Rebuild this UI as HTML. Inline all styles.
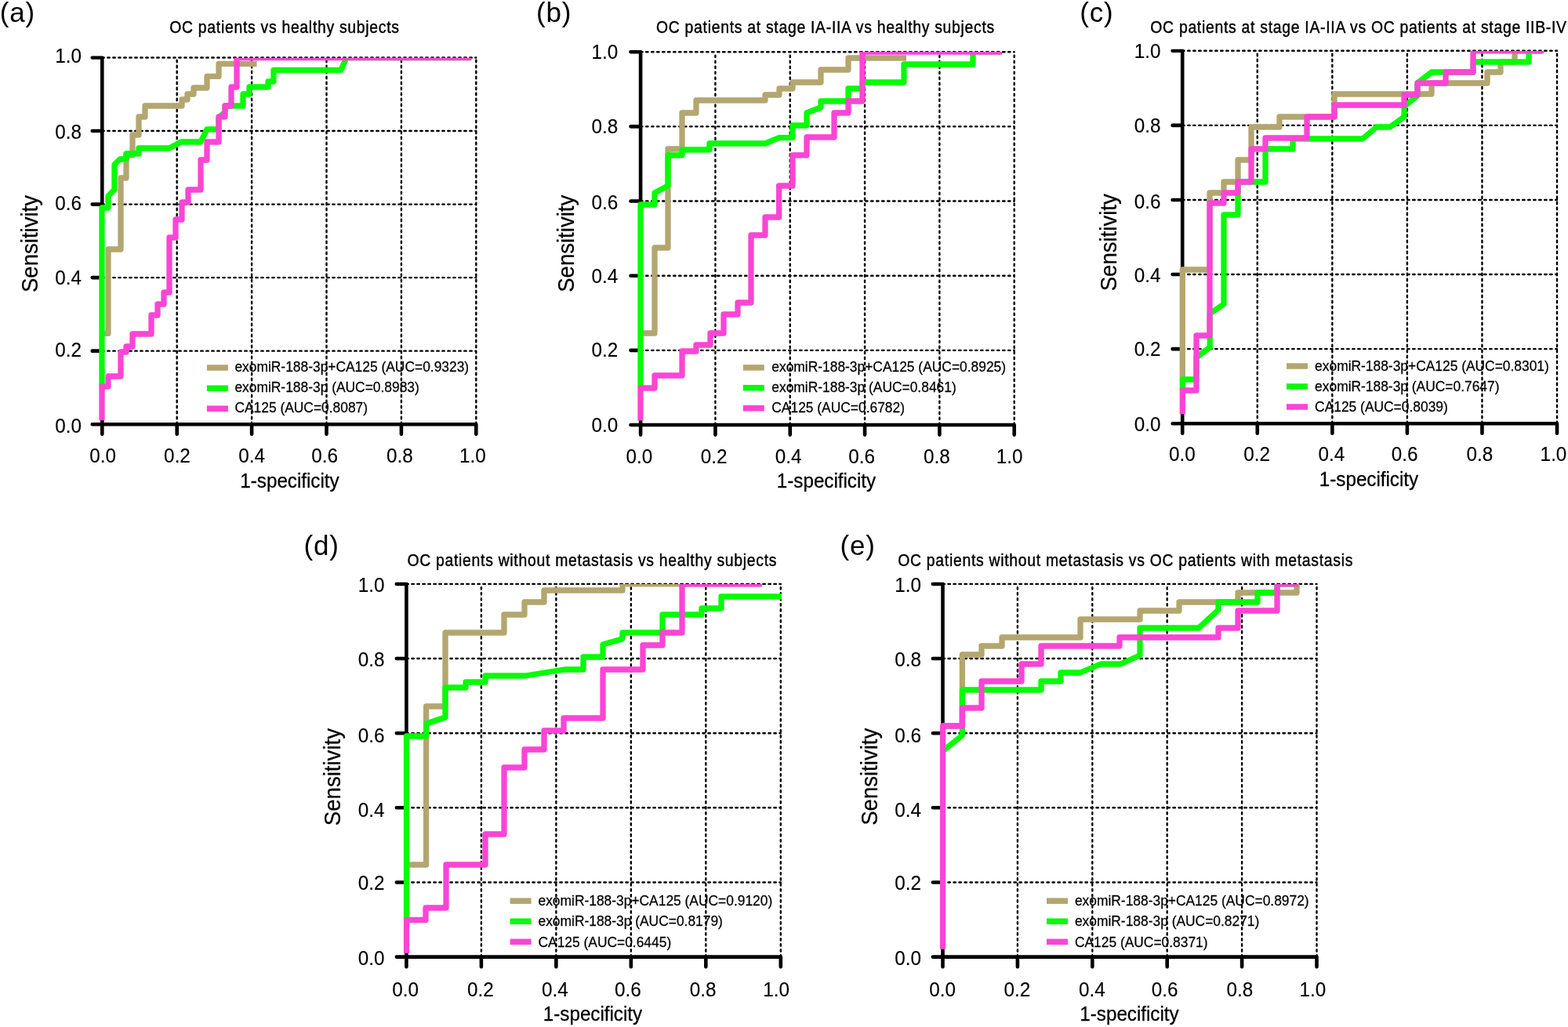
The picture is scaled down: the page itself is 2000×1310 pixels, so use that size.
<!DOCTYPE html>
<html lang="en">
<head>
<meta charset="utf-8">
<title>ROC curves</title>
<style>
html,body{margin:0;padding:0;background:#fff;}
body{width:2000px;height:1310px;overflow:hidden;}
svg{display:block;}
text{font-family:"Liberation Sans",Arial,Helvetica,sans-serif;fill:#000;}
.title{font-size:22.0px;stroke:#000;stroke-width:0.45px;stroke-linejoin:round;}
.tick{font-size:26.4px;stroke:#000;stroke-width:0.15px;stroke-linejoin:round;}
.xlab{font-size:25.6px;stroke:#000;stroke-width:0.3px;stroke-linejoin:round;}
.ylab{font-size:29.9px;stroke:#000;stroke-width:0.25px;stroke-linejoin:round;}
.leg{font-size:18.2px;stroke:#000;stroke-width:0.25px;stroke-linejoin:round;}
.plabel{font-size:35px;stroke:#000;stroke-width:0px;stroke-linejoin:round;}
.plabel{letter-spacing:0.8px;}
.title{letter-spacing:0.82px;}
.grid{fill:none;stroke:#000;stroke-width:2.4;stroke-dasharray:2.4 4.6;stroke-linecap:round;}
.axis{fill:none;stroke:#000;stroke-width:4.6;stroke-linecap:round;}
.curves polyline{fill:none;stroke-width:7.3;stroke-linejoin:round;stroke-linecap:butt;}
</style>
</head>
<body>
<svg width="2000" height="1310" viewBox="0 0 2000 1310">
<rect width="2000" height="1310" fill="#fff"/>
<g id="panel-a">
<path class="grid" d="M225.70 541.20V73.50M321.10 541.20V73.50M416.50 541.20V73.50M511.90 541.20V73.50M607.30 541.20V73.50M130.30 447.66H607.30M130.30 354.12H607.30M130.30 260.58H607.30M130.30 167.04H607.30M130.30 73.50H607.30"/>
<clipPath id="aclip-a"><rect x="100.30000000000001" y="71.2" width="60" height="507.70000000000005"/></clipPath>
<path class="axis" clip-path="url(#aclip-a)" d="M130.30 73.50V541.20M130.30 447.66h-12.6M130.30 354.12h-12.6M130.30 260.58h-12.6M130.30 167.04h-12.6M130.30 73.50h-12.6"/>
<text class="tick" transform="translate(131.20 589.90) scale(0.92 1)" text-anchor="middle">0.0</text>
<text class="tick" transform="translate(226.00 589.90) scale(0.92 1)" text-anchor="middle">0.2</text>
<text class="tick" transform="translate(321.20 589.90) scale(0.92 1)" text-anchor="middle">0.4</text>
<text class="tick" transform="translate(414.10 589.90) scale(0.92 1)" text-anchor="middle">0.6</text>
<text class="tick" transform="translate(509.80 589.90) scale(0.92 1)" text-anchor="middle">0.8</text>
<text class="tick" transform="translate(602.80 589.90) scale(0.92 1)" text-anchor="middle">1.0</text>
<text class="tick" transform="translate(103.90 551.85) scale(0.92 1)" text-anchor="end">0.0</text>
<text class="tick" transform="translate(103.90 455.21) scale(0.92 1)" text-anchor="end">0.2</text>
<text class="tick" transform="translate(103.90 362.77) scale(0.92 1)" text-anchor="end">0.4</text>
<text class="tick" transform="translate(103.90 268.43) scale(0.92 1)" text-anchor="end">0.6</text>
<text class="tick" transform="translate(103.90 176.84) scale(0.92 1)" text-anchor="end">0.8</text>
<text class="tick" transform="translate(103.90 79.75) scale(0.92 1)" text-anchor="end">1.0</text>
<clipPath id="clip-a"><rect x="110.30000000000001" y="73.7" width="517.0" height="487.50000000000006"/></clipPath>
<g clip-path="url(#clip-a)" class="curves">
<polyline points="130,425.3 138,425.3 138,318 154,318 154,227 161,227 161,198 169,198 169,172 177,172 177,149 185,149 185,135 232,135 232,127 239,127 239,120 247,120 247,112 264,112 264,97.4 279,97.4 279,81.4 327.5,81.4" stroke="#b3a66f"/>
<polyline points="130,493 130,265 138,265 138,250 146,242 146,210 153,203 161,203 161,196 177,196 177,189 216,189 231,181 256,181 264,165 279,165 279,150 287,143 287,135 310,135 310,120 318,120 318,111 342,111 342,104 349,104 349,89.3 435,89.3 442,73.5 600,73.5" stroke="#08fb08"/>
<polyline points="130,536.3 130,493 138,493 138,480 154,480 154,449 161,449 161,442 169,442 169,426 193,426 193,402 201,402 201,388 209,388 209,373 216,373 216,303 224,303 224,280 232,280 232,258 240,258 240,242 256,242 256,204 264,204 264,181 279,181 279,149 287,149 287,135 295,135 295,111 302,111 302,73.5 601.5,73.5" stroke="#fa45d5"/>
</g>
<path class="axis" d="M117.70 541.20H607.30M130.30 541.20v12.6M225.70 541.20v12.6M321.10 541.20v12.6M416.50 541.20v12.6M511.90 541.20v12.6M607.30 541.20v12.6"/>
<rect x="263.9" y="465.25" width="27" height="7.5" fill="#b3a66f"/>
<text class="leg" transform="translate(299.40 473.80) scale(0.956 1)">exomiR-188-3p+CA125 (AUC=0.9323)</text>
<rect x="263.9" y="491.45" width="27" height="7.5" fill="#08fb08"/>
<text class="leg" transform="translate(299.40 500.00) scale(0.956 1)">exomiR-188-3p (AUC=0.8983)</text>
<rect x="263.9" y="517.45" width="27" height="7.5" fill="#fa45d5"/>
<text class="leg" transform="translate(299.40 526.00) scale(0.956 1)">CA125 (AUC=0.8087)</text>
<text class="title" transform="translate(363.00 42.00) scale(0.88 1)" text-anchor="middle">OC patients vs healthy subjects</text>
<text class="plabel" transform="translate(-0.30 27.70)">(a)</text>
<text class="ylab" transform="translate(47.70 311.00) rotate(-90) scale(0.922 1)" text-anchor="middle">Sensitivity</text>
<text class="xlab" transform="translate(369.50 622.00) scale(0.945 1)" text-anchor="middle">1-specificity</text>
</g>
<g id="panel-b">
<path class="grid" d="M912.42 542.00V66.20M1007.74 542.00V66.20M1103.06 542.00V66.20M1198.38 542.00V66.20M1293.70 542.00V66.20M817.10 446.84H1293.70M817.10 351.68H1293.70M817.10 256.52H1293.70M817.10 161.36H1293.70M817.10 66.20H1293.70"/>
<clipPath id="aclip-b"><rect x="787.1" y="63.900000000000006" width="60" height="515.8"/></clipPath>
<path class="axis" clip-path="url(#aclip-b)" d="M817.10 66.20V542.00M817.10 446.84h-12.6M817.10 351.68h-12.6M817.10 256.52h-12.6M817.10 161.36h-12.6M817.10 66.20h-12.6"/>
<text class="tick" transform="translate(815.30 590.70) scale(0.92 1)" text-anchor="middle">0.0</text>
<text class="tick" transform="translate(910.62 590.70) scale(0.92 1)" text-anchor="middle">0.2</text>
<text class="tick" transform="translate(1005.64 590.70) scale(0.92 1)" text-anchor="middle">0.4</text>
<text class="tick" transform="translate(1099.16 590.70) scale(0.92 1)" text-anchor="middle">0.6</text>
<text class="tick" transform="translate(1194.78 590.70) scale(0.92 1)" text-anchor="middle">0.8</text>
<text class="tick" transform="translate(1287.70 590.70) scale(0.92 1)" text-anchor="middle">1.0</text>
<text class="tick" transform="translate(788.30 551.05) scale(0.92 1)" text-anchor="end">0.0</text>
<text class="tick" transform="translate(788.30 454.89) scale(0.92 1)" text-anchor="end">0.2</text>
<text class="tick" transform="translate(788.30 361.38) scale(0.92 1)" text-anchor="end">0.4</text>
<text class="tick" transform="translate(788.30 267.07) scale(0.92 1)" text-anchor="end">0.6</text>
<text class="tick" transform="translate(788.30 170.41) scale(0.92 1)" text-anchor="end">0.8</text>
<text class="tick" transform="translate(788.30 75.15) scale(0.92 1)" text-anchor="end">1.0</text>
<clipPath id="clip-b"><rect x="797.1" y="65.9" width="516.6" height="496.1"/></clipPath>
<g clip-path="url(#clip-b)" class="curves">
<polyline points="817,425 835,425 835,316 852,316 852,190 870,190 870,144 888,144 888,128 976,128 976,121 994,121 994,113 1011,113 1011,105 1047,105 1047,89 1082,89 1082,74 1156,74" stroke="#b3a66f"/>
<polyline points="817,495 817,261 835,261 835,246 852,237 852,198 870,198 870,191 905,191 905,183 976,183 994,175.6 1011,175.6 1011,160 1029,160 1029,144 1047,137 1047,129 1082,129 1082,113 1100,113 1100,105 1153,105 1153,82 1241,82 1241,66.2 1276,66.2" stroke="#08fb08"/>
<polyline points="817,536.6 817,495 835,495 835,479 870,479 870,448 888,448 888,440 906,440 906,425 923,425 923,401 941,401 941,386 958,386 958,300 976,300 976,277 993.6,277 993.6,237 1011,237 1011,198 1029,198 1029,175 1064,175 1064,144 1082,144 1082,129 1100,129 1100,66.2 1278,66.2" stroke="#fa45d5"/>
</g>
<path class="axis" d="M804.50 542.00H1293.70M817.10 542.00v12.6M912.42 542.00v12.6M1007.74 542.00v12.6M1103.06 542.00v12.6M1198.38 542.00v12.6M1293.70 542.00v12.6"/>
<rect x="947.8" y="465.15" width="27" height="7.5" fill="#b3a66f"/>
<text class="leg" transform="translate(984.30 474.30) scale(0.956 1)">exomiR-188-3p+CA125 (AUC=0.8925)</text>
<rect x="947.8" y="490.95" width="27" height="7.5" fill="#08fb08"/>
<text class="leg" transform="translate(984.30 500.10) scale(0.956 1)">exomiR-188-3p (AUC=0.8461)</text>
<rect x="947.8" y="516.95" width="27" height="7.5" fill="#fa45d5"/>
<text class="leg" transform="translate(984.30 526.10) scale(0.956 1)">CA125 (AUC=0.6782)</text>
<text class="title" transform="translate(1053.00 42.00) scale(0.88 1)" text-anchor="middle">OC patients at stage IA-IIA vs healthy subjects</text>
<text class="plabel" transform="translate(684.00 27.70)">(b)</text>
<text class="ylab" transform="translate(732.00 310.80) rotate(-90) scale(0.922 1)" text-anchor="middle">Sensitivity</text>
<text class="xlab" transform="translate(1054.00 622.00) scale(0.945 1)" text-anchor="middle">1-specificity</text>
</g>
<g id="panel-c">
<path class="grid" d="M1603.76 540.20V64.80M1699.32 540.20V64.80M1794.88 540.20V64.80M1890.44 540.20V64.80M1986.00 540.20V64.80M1508.20 445.12H1986.00M1508.20 350.04H1986.00M1508.20 254.96H1986.00M1508.20 159.88H1986.00M1508.20 64.80H1986.00"/>
<clipPath id="aclip-c"><rect x="1478.2" y="62.5" width="60" height="515.4000000000001"/></clipPath>
<path class="axis" clip-path="url(#aclip-c)" d="M1508.20 64.80V540.20M1508.20 445.12h-12.6M1508.20 350.04h-12.6M1508.20 254.96h-12.6M1508.20 159.88h-12.6M1508.20 64.80h-12.6"/>
<text class="tick" transform="translate(1507.90 588.00) scale(0.92 1)" text-anchor="middle">0.0</text>
<text class="tick" transform="translate(1603.01 588.00) scale(0.92 1)" text-anchor="middle">0.2</text>
<text class="tick" transform="translate(1698.32 588.00) scale(0.92 1)" text-anchor="middle">0.4</text>
<text class="tick" transform="translate(1791.58 588.00) scale(0.92 1)" text-anchor="middle">0.6</text>
<text class="tick" transform="translate(1887.44 588.00) scale(0.92 1)" text-anchor="middle">0.8</text>
<text class="tick" transform="translate(1981.50 588.00) scale(0.92 1)" text-anchor="middle">1.0</text>
<text class="tick" transform="translate(1480.40 549.90) scale(0.92 1)" text-anchor="end">0.0</text>
<text class="tick" transform="translate(1480.40 453.77) scale(0.92 1)" text-anchor="end">0.2</text>
<text class="tick" transform="translate(1480.40 360.29) scale(0.92 1)" text-anchor="end">0.4</text>
<text class="tick" transform="translate(1480.40 266.01) scale(0.92 1)" text-anchor="end">0.6</text>
<text class="tick" transform="translate(1480.40 169.48) scale(0.92 1)" text-anchor="end">0.8</text>
<text class="tick" transform="translate(1480.40 73.55) scale(0.92 1)" text-anchor="end">1.0</text>
<clipPath id="clip-c"><rect x="1488.2" y="64.9" width="517.8" height="495.30000000000007"/></clipPath>
<g clip-path="url(#clip-c)" class="curves">
<polyline points="1508.3,484 1508.3,344 1543,344 1543,246 1561,246 1561,232 1579,232 1579,204 1596,204 1596,162 1632,162 1632,149 1702,149 1702,120 1826,120 1826,106 1897,106 1897,92 1914,92 1914,79.2 1932,79.2 1932,64.8 1967,64.8" stroke="#b3a66f"/>
<polyline points="1508.3,498 1508.3,484 1526,484 1526,456 1543.2,443 1543.2,400 1561,388 1561,274 1579,274 1579,232 1614,232 1614,190 1649,190 1649,177 1738,177 1756,162 1773,162 1791,149 1791,136 1808,122 1808,106 1826,92 1879,92 1879,79 1950,79 1950,64.8 1967,64.8" stroke="#08fb08"/>
<polyline points="1508.3,528.2 1508.3,498 1526,498 1526,428 1543,428 1543,259 1561,259 1561,246 1579,246 1579,232 1596,232 1596,190 1614,190 1614,176 1667,176 1667,149 1702,149 1702,134 1791,134 1791,121 1808,121 1808,106 1844,106 1844,92 1879,92 1879,64.8 1969,64.8" stroke="#fa45d5"/>
</g>
<path class="axis" d="M1495.60 540.20H1986.00M1508.20 540.20v12.6M1603.76 540.20v12.6M1699.32 540.20v12.6M1794.88 540.20v12.6M1890.44 540.20v12.6M1986.00 540.20v12.6"/>
<rect x="1641" y="463.25" width="27" height="7.5" fill="#b3a66f"/>
<text class="leg" transform="translate(1677.10 472.90) scale(0.956 1)">exomiR-188-3p+CA125 (AUC=0.8301)</text>
<rect x="1641" y="489.25" width="27" height="7.5" fill="#08fb08"/>
<text class="leg" transform="translate(1677.10 498.90) scale(0.956 1)">exomiR-188-3p (AUC=0.7647)</text>
<rect x="1641" y="515.25" width="27" height="7.5" fill="#fa45d5"/>
<text class="leg" transform="translate(1677.10 524.90) scale(0.956 1)">CA125 (AUC=0.8039)</text>
<text class="title" transform="translate(1733.00 42.00) scale(0.88 1)" text-anchor="middle">OC patients at stage IA-IIA vs OC patients at stage IIB-IV</text>
<text class="plabel" transform="translate(1377.20 27.70)">(c)</text>
<text class="ylab" transform="translate(1424.10 309.30) rotate(-90) scale(0.922 1)" text-anchor="middle">Sensitivity</text>
<text class="xlab" transform="translate(1746.00 620.00) scale(0.945 1)" text-anchor="middle">1-specificity</text>
</g>
<g id="panel-d">
<path class="grid" d="M613.88 1220.60V744.90M709.36 1220.60V744.90M804.84 1220.60V744.90M900.32 1220.60V744.90M995.80 1220.60V744.90M518.40 1125.46H995.80M518.40 1030.32H995.80M518.40 935.18H995.80M518.40 840.04H995.80M518.40 744.90H995.80"/>
<clipPath id="aclip-d"><rect x="488.4" y="742.6" width="60" height="515.6999999999999"/></clipPath>
<path class="axis" clip-path="url(#aclip-d)" d="M518.40 744.90V1220.60M518.40 1125.46h-12.6M518.40 1030.32h-12.6M518.40 935.18h-12.6M518.40 840.04h-12.6M518.40 744.90h-12.6"/>
<text class="tick" transform="translate(517.05 1270.80) scale(0.92 1)" text-anchor="middle">0.0</text>
<text class="tick" transform="translate(612.83 1270.80) scale(0.92 1)" text-anchor="middle">0.2</text>
<text class="tick" transform="translate(707.86 1270.80) scale(0.92 1)" text-anchor="middle">0.4</text>
<text class="tick" transform="translate(800.79 1270.80) scale(0.92 1)" text-anchor="middle">0.6</text>
<text class="tick" transform="translate(896.72 1270.80) scale(0.92 1)" text-anchor="middle">0.8</text>
<text class="tick" transform="translate(990.10 1270.80) scale(0.92 1)" text-anchor="middle">1.0</text>
<text class="tick" transform="translate(490.40 1230.85) scale(0.92 1)" text-anchor="end">0.0</text>
<text class="tick" transform="translate(490.40 1134.81) scale(0.92 1)" text-anchor="end">0.2</text>
<text class="tick" transform="translate(490.40 1042.37) scale(0.92 1)" text-anchor="end">0.4</text>
<text class="tick" transform="translate(490.40 946.83) scale(0.92 1)" text-anchor="end">0.6</text>
<text class="tick" transform="translate(490.40 850.39) scale(0.92 1)" text-anchor="end">0.8</text>
<text class="tick" transform="translate(490.40 755.05) scale(0.92 1)" text-anchor="end">1.0</text>
<clipPath id="clip-d"><rect x="498.4" y="745.1" width="517.4" height="495.4999999999999"/></clipPath>
<g clip-path="url(#clip-d)" class="curves">
<polyline points="518.5,1103 543.6,1103 543.6,901 568,901 568,807 643,807 643,784 669,784 669,768 694,768 694,753 794,753 794,744.9 970,744.9" stroke="#b3a66f"/>
<polyline points="518.5,1173 518.5,939 543.6,939 543.6,923 568,915 568,877 594,877 594,870 619,870 619,862 670,862 720,854 744,854 744,838 769,838 769,822 794,815 794,807 845,807 845,784 895,784 895,776 920,776 920,761 997,761" stroke="#08fb08"/>
<polyline points="518.5,1216 518.5,1173.5 543,1173.5 543,1158 569,1158 569,1103 619,1103 619,1064 643,1064 643,979 669,979 669,956 694,956 694,932 719,932 719,916 769,916 769,854 820,854 820,823 845,823 845,807 870,807 870,744.9 972,744.9" stroke="#fa45d5"/>
</g>
<path class="axis" d="M505.80 1220.60H995.80M518.40 1220.60v12.6M613.88 1220.60v12.6M709.36 1220.60v12.6M804.84 1220.60v12.6M900.32 1220.60v12.6M995.80 1220.60v12.6"/>
<rect x="650.6" y="1145.45" width="27" height="7.5" fill="#b3a66f"/>
<text class="leg" transform="translate(686.50 1155.40) scale(0.956 1)">exomiR-188-3p+CA125 (AUC=0.9120)</text>
<rect x="650.6" y="1171.45" width="27" height="7.5" fill="#08fb08"/>
<text class="leg" transform="translate(686.50 1181.40) scale(0.956 1)">exomiR-188-3p (AUC=0.8179)</text>
<rect x="650.6" y="1197.55" width="27" height="7.5" fill="#fa45d5"/>
<text class="leg" transform="translate(686.50 1207.50) scale(0.956 1)">CA125 (AUC=0.6445)</text>
<text class="title" transform="translate(755.30 722.20) scale(0.88 1)" text-anchor="middle">OC patients without metastasis vs healthy subjects</text>
<text class="plabel" transform="translate(387.60 707.70)">(d)</text>
<text class="ylab" transform="translate(434.10 991.10) rotate(-90) scale(0.922 1)" text-anchor="middle">Sensitivity</text>
<text class="xlab" transform="translate(756.00 1302.00) scale(0.945 1)" text-anchor="middle">1-specificity</text>
</g>
<g id="panel-e">
<path class="grid" d="M1297.90 1220.60V744.90M1393.30 1220.60V744.90M1488.70 1220.60V744.90M1584.10 1220.60V744.90M1679.50 1220.60V744.90M1202.50 1125.46H1679.50M1202.50 1030.32H1679.50M1202.50 935.18H1679.50M1202.50 840.04H1679.50M1202.50 744.90H1679.50"/>
<clipPath id="aclip-e"><rect x="1172.5" y="742.6" width="60" height="515.6999999999999"/></clipPath>
<path class="axis" clip-path="url(#aclip-e)" d="M1202.50 744.90V1220.60M1202.50 1125.46h-12.6M1202.50 1030.32h-12.6M1202.50 935.18h-12.6M1202.50 840.04h-12.6M1202.50 744.90h-12.6"/>
<text class="tick" transform="translate(1202.20 1270.80) scale(0.92 1)" text-anchor="middle">0.0</text>
<text class="tick" transform="translate(1297.30 1270.80) scale(0.92 1)" text-anchor="middle">0.2</text>
<text class="tick" transform="translate(1392.85 1270.80) scale(0.92 1)" text-anchor="middle">0.4</text>
<text class="tick" transform="translate(1485.70 1270.80) scale(0.92 1)" text-anchor="middle">0.6</text>
<text class="tick" transform="translate(1581.40 1270.80) scale(0.92 1)" text-anchor="middle">0.8</text>
<text class="tick" transform="translate(1674.40 1270.80) scale(0.92 1)" text-anchor="middle">1.0</text>
<text class="tick" transform="translate(1175.00 1230.85) scale(0.92 1)" text-anchor="end">0.0</text>
<text class="tick" transform="translate(1175.00 1135.01) scale(0.92 1)" text-anchor="end">0.2</text>
<text class="tick" transform="translate(1175.00 1042.37) scale(0.92 1)" text-anchor="end">0.4</text>
<text class="tick" transform="translate(1175.00 946.83) scale(0.92 1)" text-anchor="end">0.6</text>
<text class="tick" transform="translate(1175.00 850.39) scale(0.92 1)" text-anchor="end">0.8</text>
<text class="tick" transform="translate(1175.00 755.05) scale(0.92 1)" text-anchor="end">1.0</text>
<clipPath id="clip-e"><rect x="1182.5" y="745.1" width="517.0" height="495.4999999999999"/></clipPath>
<g clip-path="url(#clip-e)" class="curves">
<polyline points="1202.6,926 1227.4,926 1227.4,835 1252,835 1252,824 1278,824 1278,813 1378,813 1378,790 1454,790 1454,779 1504,779 1504,768 1579,768 1579,756 1654,756 1654,744.9 1656,744.9" stroke="#b3a66f"/>
<polyline points="1202.6,958 1227.4,938 1227.4,880 1328,880 1328,869 1353,869 1353,858 1378,858 1404,847 1429,847 1454,836 1454,801 1529,801 1554,778 1554,768 1604,768 1604,756 1629,756 1629,744.9 1656,744.9" stroke="#08fb08"/>
<polyline points="1202.6,1210.8 1202.6,926 1227.4,926 1227.4,903 1252,903 1252,869 1303,869 1303,847 1328,847 1328,824 1428,824 1428,813 1554,813 1554,801 1579,801 1579,779 1629,779 1629,744.9 1656,744.9" stroke="#fa45d5"/>
</g>
<path class="axis" d="M1189.90 1220.60H1679.50M1202.50 1220.60v12.6M1297.90 1220.60v12.6M1393.30 1220.60v12.6M1488.70 1220.60v12.6M1584.10 1220.60v12.6M1679.50 1220.60v12.6"/>
<rect x="1335" y="1145.45" width="27" height="7.5" fill="#b3a66f"/>
<text class="leg" transform="translate(1370.90 1155.40) scale(0.956 1)">exomiR-188-3p+CA125 (AUC=0.8972)</text>
<rect x="1335" y="1171.45" width="27" height="7.5" fill="#08fb08"/>
<text class="leg" transform="translate(1370.90 1181.40) scale(0.956 1)">exomiR-188-3p (AUC=0.8271)</text>
<rect x="1335" y="1197.55" width="27" height="7.5" fill="#fa45d5"/>
<text class="leg" transform="translate(1370.90 1207.50) scale(0.956 1)">CA125 (AUC=0.8371)</text>
<text class="title" transform="translate(1435.70 722.20) scale(0.88 1)" text-anchor="middle">OC patients without metastasis vs OC patients with metastasis</text>
<text class="plabel" transform="translate(1071.60 707.70)">(e)</text>
<text class="ylab" transform="translate(1118.70 990.80) rotate(-90) scale(0.922 1)" text-anchor="middle">Sensitivity</text>
<text class="xlab" transform="translate(1440.50 1302.00) scale(0.945 1)" text-anchor="middle">1-specificity</text>
</g>
</svg>
</body>
</html>
